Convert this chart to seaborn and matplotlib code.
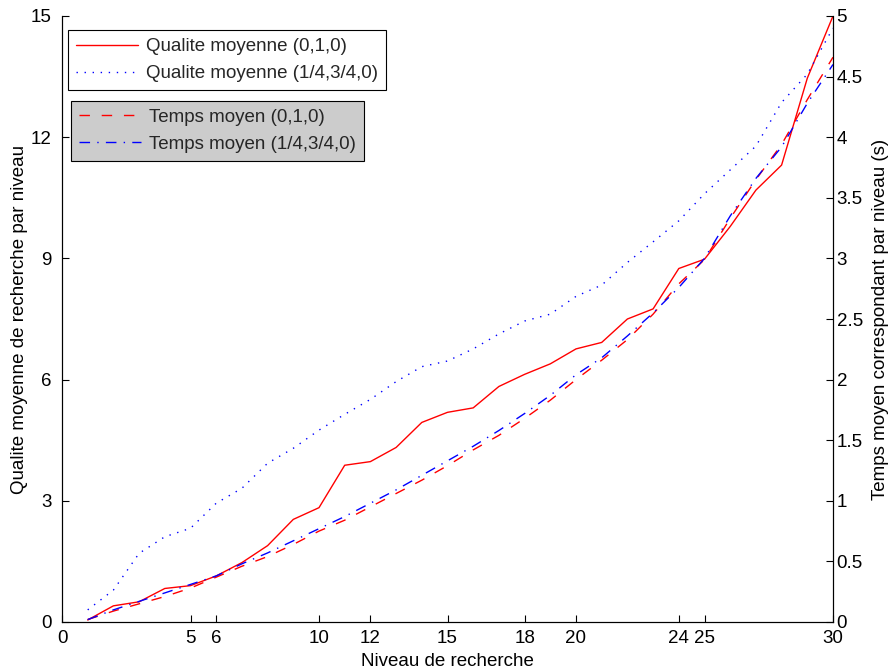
import numpy as np
import pandas as pd
import matplotlib
matplotlib.use("Agg")
import matplotlib.pyplot as plt
from matplotlib.ticker import FormatStrFormatter
import seaborn as sns

# Search levels
levels = list(range(1, 31))

# Mean quality per level (left axis)
qual_010 = [0.05, 0.40, 0.50, 0.83, 0.90, 1.14, 1.47, 1.89, 2.54, 2.83,
            3.88, 3.97, 4.32, 4.94, 5.19, 5.30, 5.83, 6.13, 6.39, 6.76,
            6.92, 7.50, 7.75, 8.75, 8.98, 9.79, 10.69, 11.31, 13.46, 15.00]
qual_quarter = [0.30, 0.79, 1.70, 2.11, 2.32, 2.94, 3.31, 3.93, 4.30, 4.75,
                5.14, 5.51, 5.95, 6.32, 6.46, 6.76, 7.13, 7.45, 7.62, 8.06,
                8.34, 8.90, 9.41, 9.93, 10.60, 11.19, 11.78, 12.86, 13.56, 14.70]

# Mean time per level in seconds (right axis)
time_010 = [0.02, 0.09, 0.15, 0.21, 0.28, 0.37, 0.46, 0.54, 0.64, 0.75,
            0.84, 0.95, 1.06, 1.17, 1.29, 1.42, 1.54, 1.68, 1.83, 2.00,
            2.16, 2.33, 2.54, 2.79, 2.99, 3.33, 3.65, 3.94, 4.31, 4.66]
time_quarter = [0.02, 0.10, 0.17, 0.24, 0.31, 0.38, 0.48, 0.57, 0.67, 0.77,
                0.87, 0.98, 1.09, 1.21, 1.33, 1.45, 1.58, 1.72, 1.87, 2.04,
                2.18, 2.36, 2.55, 2.76, 3.00, 3.35, 3.66, 3.92, 4.28, 4.60]

series_labels = ["Qualite moyenne (0,1,0)", "Qualite moyenne (1/4,3/4,0)",
                 "Temps moyen (0,1,0)", "Temps moyen (1/4,3/4,0)"]

x_ticks = [0, 5, 6, 10, 12, 15, 18, 20, 24, 25, 30]
left_ticks = [0, 3, 6, 9, 12, 15]
right_ticks = [0, 0.5, 1, 1.5, 2, 2.5, 3, 3.5, 4, 4.5, 5]

df = pd.DataFrame({"niveau": levels, "q010": qual_010, "qq": qual_quarter,
                   "t010": time_010, "tq": time_quarter})

sns.set_theme(style="white")
plt.rcParams["font.family"] = ["Liberation Sans", "DejaVu Sans"]
FS = 13.5
plt.rcParams["font.size"] = FS

fig = plt.figure(figsize=(8.96, 6.72), dpi=100)
fig.patch.set_facecolor("white")
ax = fig.add_axes([62 / 896, 50 / 672, 771 / 896, 606 / 672])
ax2 = ax.twinx()

LW = 1.0
sns.lineplot(data=df, x="niveau", y="q010", ax=ax, color="#ff0000", lw=LW,
             errorbar=None, legend=False, label=series_labels[0])
sns.lineplot(data=df, x="niveau", y="qq", ax=ax, color="#0000ff", lw=LW,
             linestyle=(0, (1, 4.8)), errorbar=None, legend=False,
             label=series_labels[1])
sns.lineplot(data=df, x="niveau", y="t010", ax=ax2, color="#ff0000", lw=LW,
             linestyle=(0, (7.5, 8.5)), errorbar=None, legend=False,
             label=series_labels[2])
sns.lineplot(data=df, x="niveau", y="tq", ax=ax2, color="#0000ff", lw=LW,
             linestyle=(0, (7.6, 5.2, 1, 5.2)), errorbar=None, legend=False,
             label=series_labels[3])

ax.set_xlim(0, 30)
ax.set_ylim(0, 15)
ax2.set_ylim(0, 5)

ax.set_xticks(x_ticks)
ax.set_xticklabels([str(t) for t in x_ticks])
ax.set_yticks(left_ticks)
ax2.set_yticks(right_ticks)
ax2.yaxis.set_major_formatter(FormatStrFormatter("%g"))

for a in (ax, ax2):
    a.spines["top"].set_visible(False)
    for s in a.spines.values():
        s.set_color("black")
        s.set_linewidth(0.8)
    a.set_facecolor("none")
    a.grid(False)

ax.tick_params(axis="x", direction="in", length=5, width=0.8, pad=5.6,
               labelsize=FS, colors="black", bottom=True, top=False)
ax.tick_params(axis="y", direction="in", length=5, width=0.8, pad=7.5,
               labelsize=FS, colors="black", left=True, right=False)
ax2.tick_params(axis="y", direction="in", length=5, width=0.8, pad=2.6,
                labelsize=FS, colors="black", right=True, left=False)
ax2.tick_params(axis="x", bottom=False, top=False, labelbottom=False)

ax.set_xlabel("Niveau de recherche", fontsize=FS, color="black")
ax.set_ylabel("Qualite moyenne de recherche par niveau", fontsize=FS, color="black")
ax2.set_ylabel("Temps moyen correspondant par niveau (s)", fontsize=FS, color="black")
ax.xaxis.set_label_coords(0.5, -0.051)
ax.yaxis.set_label_coords(-0.044, 0.5)
ax2.yaxis.set_label_coords(1.050, 0.5)

q_lines = ax.get_lines()[:2]
t_lines = ax2.get_lines()[:2]

leg_kw = dict(loc="upper left", borderaxespad=0, fontsize=FS, fancybox=False,
              framealpha=1, edgecolor="black", borderpad=0.43, handlelength=3.3,
              handletextpad=0.45, labelspacing=0.52)
leg1 = ax2.legend(handles=q_lines, labels=series_labels[:2],
                  bbox_to_anchor=(6 / 771, (622 - 30) / 606), facecolor="white",
                  **leg_kw)
leg1.get_frame().set_linewidth(0.8)
ax2.add_artist(leg1)
leg2 = ax2.legend(handles=t_lines, labels=series_labels[2:],
                  bbox_to_anchor=(9 / 771, (622 - 100.5) / 606), facecolor="#cccccc",
                  **leg_kw)
leg2.get_frame().set_linewidth(0.8)

fig.savefig("out.png", dpi=100, facecolor="white")
